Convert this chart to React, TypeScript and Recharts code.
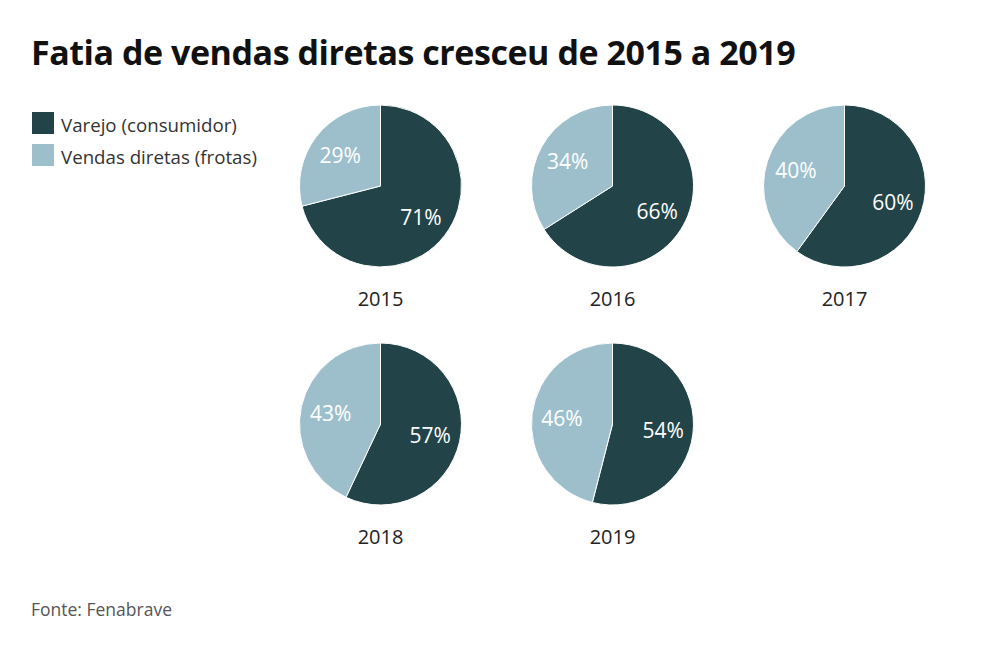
import React from 'react';
import { PieChart, Pie, Cell } from 'recharts';

const years = ['2015', '2016', '2017', '2018', '2019'];
const varejo = [71, 66, 60, 57, 54];
const vendasDiretas = [29, 34, 40, 43, 46];
const seriesNames = ['Varejo (consumidor)', 'Vendas diretas (frotas)'];
const colors = ['#224448', '#9dbfcc'];

// layout of the small multiples
const centers = [
  { x: 380.5, y: 186 },
  { x: 612.5, y: 186 },
  { x: 844.5, y: 186 },
  { x: 380.5, y: 424 },
  { x: 612.5, y: 424 },
];
const R = 81;
const RADIAN = Math.PI / 180;
const font = '"Open Sans", "Noto Sans", sans-serif';

const renderLabel = (props: any) => {
  const { cx, cy, midAngle, outerRadius, value } = props;
  const r = outerRadius * 0.63;
  const x = cx + r * Math.cos(-midAngle * RADIAN);
  const y = cy + r * Math.sin(-midAngle * RADIAN);
  return (
    <text x={x} y={y} fill="#ffffff" textAnchor="middle" dominantBaseline="central"
      style={{ fontFamily: font, fontSize: 21 }}>
      {value}%
    </text>
  );
};

export default function App() {
  return (
    <div style={{ position: 'fixed', left: 0, top: 0, width: 984, height: 650, background: '#fff', fontFamily: font }}>
      <div style={{ position: 'absolute', left: 31, top: 30, fontSize: 34, fontWeight: 700, color: '#111', letterSpacing: -0.45, lineHeight: '44px', whiteSpace: 'nowrap' }}>
        Fatia de vendas diretas cresceu de 2015 a 2019
      </div>

      {seriesNames.map((name, i) => (
        <div key={name} style={{ position: 'absolute', left: 32, top: 112 + i * 32, height: 22, display: 'flex', alignItems: 'center' }}>
          <div style={{ width: 22, height: 22, background: colors[i] }} />
          <span style={{ marginLeft: 7, marginTop: 3, fontSize: 18.7, color: '#333', whiteSpace: 'nowrap' }}>{name}</span>
        </div>
      ))}

      <div style={{ position: 'absolute', left: 0, top: 0 }}>
        <PieChart width={984} height={650} margin={{ top: 0, right: 0, bottom: 0, left: 0 }}>
          {years.map((yr, i) => (
            <Pie
              key={yr}
              data={[
                { name: seriesNames[0], value: varejo[i] },
                { name: seriesNames[1], value: vendasDiretas[i] },
              ]}
              dataKey="value"
              cx={centers[i].x}
              cy={centers[i].y}
              outerRadius={R}
              startAngle={90}
              endAngle={-270}
              stroke="#ffffff"
              strokeWidth={1}
              labelLine={false}
              label={renderLabel}
              isAnimationActive={false}
            >
              <Cell fill={colors[0]} />
              <Cell fill={colors[1]} />
            </Pie>
          ))}
        </PieChart>
      </div>

      {years.map((yr, i) => (
        <div key={yr} style={{ position: 'absolute', left: centers[i].x - 50, width: 100, top: centers[i].y + 99, textAlign: 'center', fontSize: 20, color: '#222', lineHeight: '28px' }}>
          {yr}
        </div>
      ))}

      <div style={{ position: 'absolute', left: 31, top: 597, fontSize: 17.5, color: '#555', lineHeight: '24px' }}>
        Fonte: Fenabrave
      </div>
    </div>
  );
}
